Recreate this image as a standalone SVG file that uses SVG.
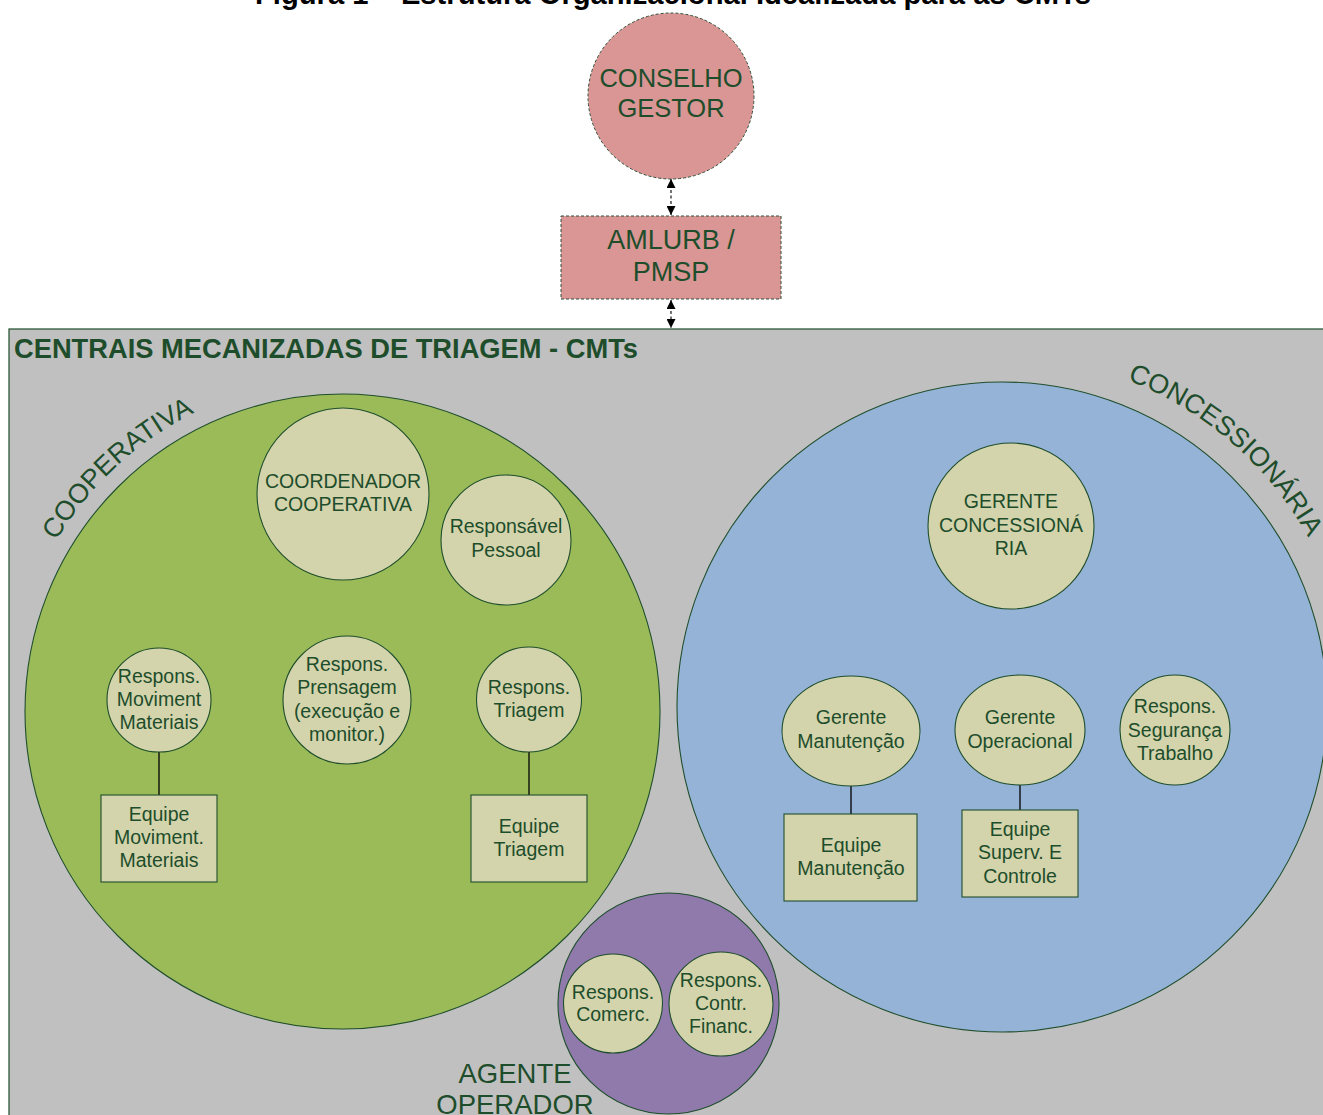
<svg xmlns="http://www.w3.org/2000/svg" width="1323" height="1115" viewBox="0 0 1323 1115">
  <style>
    .t { font-family: "Liberation Sans", Arial, sans-serif; fill: #1e4d2b; text-anchor: middle; }
    .n { font-size: 19.5px; }
    .big { font-size: 26.5px; }
    .node { fill: #d3d4ab; stroke: #1f4e2c; stroke-width: 1.1; }
    .top { fill: #d99694; stroke: #2f4f3a; stroke-width: 1; stroke-dasharray: 3 2; }
    .link { stroke: #000; stroke-width: 1.3; fill: none; }
    .dash { stroke: #000; stroke-width: 1.1; stroke-dasharray: 3 2.5; fill: none; }
    .grp { stroke: #1f4e2c; stroke-width: 1.1; }
  </style>
  <defs>
    <marker id="ah" viewBox="0 0 10 10" refX="10" refY="5" markerWidth="9" markerHeight="9" markerUnits="userSpaceOnUse" orient="auto-start-reverse">
      <path d="M0,0 L10,5 L0,10 z" fill="#000"/>
    </marker>
    <!-- baseline arcs for the curved group labels -->
    <path id="arcCoop" d="M 30.3 595.3 A 333 333 0 0 1 250.8 390.9"/>
    <path id="arcConc" d="M 1092.6 368.9 A 350 350 0 0 1 1324.2 570.3"/>
  </defs>

  <rect x="0" y="0" width="1323" height="1115" fill="#ffffff"/>

  <!-- figure caption, partly above the page edge -->
  <text x="673" y="4" font-family="Liberation Sans, Arial, sans-serif" font-weight="bold" font-size="29" text-anchor="middle" fill="#000" textLength="836" lengthAdjust="spacingAndGlyphs">Figura 1 – Estrutura Organizacional Idealizada para as CMTs</text>

  <!-- CMT area -->
  <g id="cmt-area">
    <rect x="9" y="329" width="1330" height="800" fill="#c0c0c0" stroke="#1f4e2c" stroke-width="1.2"/>
    <text x="14" y="358" font-family="Liberation Sans, Arial, sans-serif" font-weight="bold" font-size="27" fill="#1e4d2b" textLength="624" lengthAdjust="spacingAndGlyphs">CENTRAIS MECANIZADAS DE TRIAGEM - CMTs</text>
  </g>

  <!-- group regions -->
  <g id="cooperativa">
    <circle class="grp" cx="342.5" cy="711.5" r="317.5" fill="#9bbb59"/>
    <text class="t" font-size="27"><textPath href="#arcCoop" startOffset="50%">COOPERATIVA</textPath></text>
  </g>
  <g id="concessionaria">
    <circle class="grp" cx="1002" cy="707" r="325" fill="#95b3d7"/>
    <text class="t" font-size="27"><textPath href="#arcConc" startOffset="50%">CONCESSIONÁRIA</textPath></text>
  </g>
  <g id="agente-operador">
    <circle class="grp" cx="668.5" cy="1003.5" r="110.5" fill="#8f7aab"/>
    <text class="t" font-size="27.5" x="515" y="1083">AGENTE</text>
    <text class="t" font-size="27.5" x="515" y="1114">OPERADOR</text>
  </g>

  <!-- connectors -->
  <g id="connectors">
    <line class="dash" x1="671" y1="179" x2="671" y2="215" marker-start="url(#ah)" marker-end="url(#ah)"/>
    <line class="dash" x1="671" y1="300" x2="671" y2="328" marker-start="url(#ah)" marker-end="url(#ah)"/>
    <line class="link" x1="159" y1="752" x2="159" y2="795"/>
    <line class="link" x1="529" y1="752" x2="529" y2="795"/>
    <line class="link" x1="851" y1="786" x2="851" y2="814"/>
    <line class="link" x1="1020" y1="785" x2="1020" y2="810"/>
  </g>

  <!-- governance -->
  <g id="conselho-gestor">
    <circle class="top" cx="671" cy="96" r="83"/>
    <text class="t" font-size="25.5" x="671" y="87">CONSELHO</text>
    <text class="t" font-size="25.5" x="671" y="117">GESTOR</text>
  </g>
  <g id="amlurb-pmsp">
    <rect class="top" x="561" y="216" width="220" height="83"/>
    <text class="t" font-size="27" x="671" y="249">AMLURB /</text>
    <text class="t" font-size="27" x="671" y="281">PMSP</text>
  </g>

  <!-- cooperativa nodes -->
  <g id="coordenador-cooperativa">
    <circle class="node" cx="343" cy="494" r="86"/>
    <text class="t n" x="343" y="488">COORDENADOR</text>
    <text class="t n" x="343" y="511">COOPERATIVA</text>
  </g>
  <g id="responsavel-pessoal">
    <circle class="node" cx="506" cy="540" r="65"/>
    <text class="t n" x="506" y="533">Responsável</text>
    <text class="t n" x="506" y="557">Pessoal</text>
  </g>
  <g id="respons-moviment">
    <circle class="node" cx="159" cy="700" r="52"/>
    <text class="t n" x="159" y="683">Respons.</text>
    <text class="t n" x="159" y="706">Moviment</text>
    <text class="t n" x="159" y="729">Materiais</text>
  </g>
  <g id="equipe-moviment">
    <rect class="node" x="101" y="795" width="116" height="87"/>
    <text class="t n" x="159" y="821">Equipe</text>
    <text class="t n" x="159" y="844">Moviment.</text>
    <text class="t n" x="159" y="867">Materiais</text>
  </g>
  <g id="respons-prensagem">
    <circle class="node" cx="347" cy="700" r="64"/>
    <text class="t n" x="347" y="671">Respons.</text>
    <text class="t n" x="347" y="694">Prensagem</text>
    <text class="t n" x="347" y="718">(execução e</text>
    <text class="t n" x="347" y="741">monitor.)</text>
  </g>
  <g id="respons-triagem">
    <circle class="node" cx="529" cy="699.5" r="52.5"/>
    <text class="t n" x="529" y="694">Respons.</text>
    <text class="t n" x="529" y="717">Triagem</text>
  </g>
  <g id="equipe-triagem">
    <rect class="node" x="471" y="795" width="116" height="87"/>
    <text class="t n" x="529" y="833">Equipe</text>
    <text class="t n" x="529" y="856">Triagem</text>
  </g>

  <!-- concessionaria nodes -->
  <g id="gerente-concessionaria">
    <circle class="node" cx="1011" cy="526" r="83"/>
    <text class="t n" x="1011" y="508">GERENTE</text>
    <text class="t n" x="1011" y="532">CONCESSIONÁ</text>
    <text class="t n" x="1011" y="555">RIA</text>
  </g>
  <g id="gerente-manutencao">
    <ellipse class="node" cx="851" cy="731" rx="69" ry="55"/>
    <text class="t n" x="851" y="724">Gerente</text>
    <text class="t n" x="851" y="748">Manutenção</text>
  </g>
  <g id="equipe-manutencao">
    <rect class="node" x="784" y="814" width="133" height="87"/>
    <text class="t n" x="851" y="852">Equipe</text>
    <text class="t n" x="851" y="875">Manutenção</text>
  </g>
  <g id="gerente-operacional">
    <ellipse class="node" cx="1020" cy="730" rx="65" ry="55"/>
    <text class="t n" x="1020" y="724">Gerente</text>
    <text class="t n" x="1020" y="748">Operacional</text>
  </g>
  <g id="equipe-superv">
    <rect class="node" x="962" y="810" width="116" height="87"/>
    <text class="t n" x="1020" y="836">Equipe</text>
    <text class="t n" x="1020" y="859">Superv. E</text>
    <text class="t n" x="1020" y="883">Controle</text>
  </g>
  <g id="respons-seguranca">
    <circle class="node" cx="1175" cy="730" r="55"/>
    <text class="t n" x="1175" y="713">Respons.</text>
    <text class="t n" x="1175" y="737">Segurança</text>
    <text class="t n" x="1175" y="760">Trabalho</text>
  </g>

  <!-- agente operador nodes -->
  <g id="respons-comerc">
    <circle class="node" cx="613" cy="1003.5" r="49.5"/>
    <text class="t n" x="613" y="999">Respons.</text>
    <text class="t n" x="613" y="1021">Comerc.</text>
  </g>
  <g id="respons-financ">
    <circle class="node" cx="721" cy="1004" r="52"/>
    <text class="t n" x="721" y="987">Respons.</text>
    <text class="t n" x="721" y="1010">Contr.</text>
    <text class="t n" x="721" y="1033">Financ.</text>
  </g>
</svg>
